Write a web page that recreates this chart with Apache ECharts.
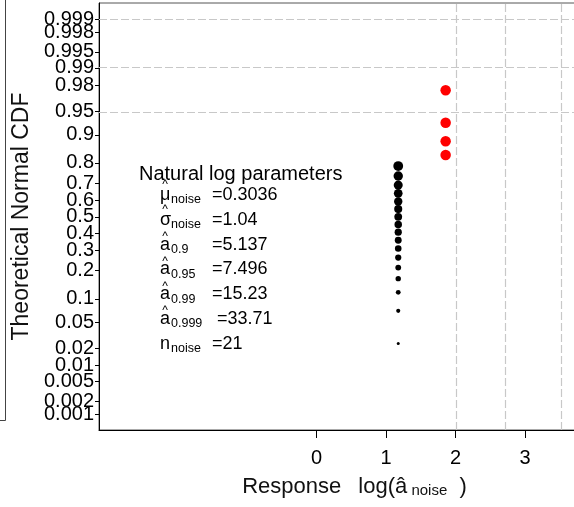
<!DOCTYPE html>
<html><head><meta charset="utf-8">
<script src="https://cdn.jsdelivr.net/npm/echarts@6/dist/echarts.min.js"></script>
<style>html,body{margin:0;padding:0;background:#fff}#c{width:574px;height:507px}</style>
</head><body><div id="c"></div>
<script>
// ---- data ----
const noiseLogA = [1.174,1.174,1.174,1.174,1.174,1.174,1.174,1.174,1.174,1.174,1.174,1.174,1.174,1.174,1.174,1.174,1.174];
const noiseCdf  = [0.024,0.071,0.119,0.167,0.214,0.262,0.310,0.357,0.405,0.452,0.500,0.548,0.595,0.643,0.690,0.738,0.786];
const signalLogA = [1.856,1.856,1.856,1.856];
const signalCdf  = [0.833,0.881,0.929,0.976];
const yTickProbs  = [0.001,0.002,0.005,0.01,0.02,0.05,0.1,0.2,0.3,0.4,0.5,0.6,0.7,0.8,0.9,0.95,0.98,0.99,0.995,0.998,0.999];
const yTickLabels = ['0.001','0.002','0.005','0.01','0.02','0.05','0.1','0.2','0.3','0.4','0.5','0.6','0.7','0.8','0.9','0.95','0.98','0.99','0.995','0.998','0.999'];
const xTicks = [0,1,2,3];
const refProbs = [0.95,0.99,0.999];
const refA = [7.496,15.23,33.71];
const paramSymbols = ['μ','σ','a','a','a','a','n'];
const paramHats    = [true,true,true,true,true,true,false];
const paramSubs    = ['noise','noise','0.9','0.95','0.99','0.999','noise'];
const paramValues  = ['=0.3036','=1.04','=5.137','=7.496','=15.23','=33.71','=21'];

// inverse standard normal CDF (Acklam) – the probit axis transform
function probit(p){
  const a=[-3.969683028665376e+01,2.209460984245205e+02,-2.759285104469687e+02,1.383577518672690e+02,-3.066479806614716e+01,2.506628277459239e+00];
  const b=[-5.447609879822406e+01,1.615858368580409e+02,-1.556989798598866e+02,6.680131188771972e+01,-1.328068155288572e+01];
  const c=[-7.784894002430293e-03,-3.223964580411365e-01,-2.400758277161838e+00,-2.549732539343734e+00,4.374664141464968e+00,2.938163982698783e+00];
  const d=[7.784695709041462e-03,3.224671290700398e-01,2.445134137142996e+00,3.754408661907416e+00];
  const pl=0.02425, ph=1-pl; let q,r;
  if(p<pl){q=Math.sqrt(-2*Math.log(p));return (((((c[0]*q+c[1])*q+c[2])*q+c[3])*q+c[4])*q+c[5])/((((d[0]*q+d[1])*q+d[2])*q+d[3])*q+1);}
  if(p<=ph){q=p-0.5;r=q*q;return (((((a[0]*r+a[1])*r+a[2])*r+a[3])*r+a[4])*r+a[5])*q/(((((b[0]*r+b[1])*r+b[2])*r+b[3])*r+b[4])*r+1);}
  q=Math.sqrt(-2*Math.log(1-p));return -(((((c[0]*q+c[1])*q+c[2])*q+c[3])*q+c[4])*q+c[5])/((((d[0]*q+d[1])*q+d[2])*q+d[3])*q+1);
}
const Y_MIN = -3.33, Y_MAX = 3.34;
const yTickZ = yTickProbs.map(probit);
// guard entries at the axis ends (hidden) so no real label is dropped by min/max overlap handling
const yLabelZ = [Y_MIN].concat(yTickZ, [Y_MAX]);
const FONT = '"Liberation Sans", Arial, sans-serif';

const chart = echarts.init(document.getElementById('c'), null, {renderer:'canvas'});

// annotation block
const gEls = [];
gEls.push({type:'text', x:139, y:174, style:{text:'Natural log parameters', font:'20px '+FONT, fill:'#000', verticalAlign:'middle', align:'left'}});
paramSymbols.forEach((s,i)=>{
  const cy = 195 + 24.8*i;
  gEls.push({type:'text', x:160, y:cy, style:{text:s, font:'18px '+FONT, fill:'#000', verticalAlign:'middle', align:'left'}});
  if(paramHats[i]) gEls.push({type:'text', x:165, y:(i<2? cy-10 : cy-8), style:{text:'^', font:'12px '+FONT, fill:'#000', verticalAlign:'middle', align:'center'}});
  gEls.push({type:'text', x:171, y:cy+5, style:{text:paramSubs[i], font:'12.5px '+FONT, fill:'#000', verticalAlign:'middle', align:'left'}});
  gEls.push({type:'text', x:(paramSubs[i]==='0.999')?217:212, y:cy, style:{text:paramValues[i], font:'18px '+FONT, fill:'#000', verticalAlign:'middle', align:'left'}});
});
// left edge of neighbouring frame
gEls.push({type:'line', shape:{x1:5.5,y1:0,x2:5.5,y2:420.5}, style:{stroke:'#444', lineWidth:1}});
gEls.push({type:'line', shape:{x1:0,y1:420.5,x2:5.5,y2:420.5}, style:{stroke:'#444', lineWidth:1}});

const dash = {type:[8,3], color:'#c8c8c8', width:1.2};

chart.setOption({
  animation:false,
  backgroundColor:'#fff',
  grid:{left:99, top:3, right:-36, bottom:77, show:true, borderColor:'#555', borderWidth:1, containLabel:false, outerBoundsMode:'none'},
  xAxis:{
    type:'value', min:-3.13, max:4.22,
    axisLine:{onZero:false, lineStyle:{color:'#000', width:1}},
    axisTick:{length:8, lineStyle:{color:'#000'}, customValues:xTicks},
    axisLabel:{customValues:xTicks, fontSize:20, fontFamily:FONT, color:'#000', margin:18},
    splitLine:{show:false},
    name:'Response\u2002 log({h|â}{s| noise}  )',
    nameLocation:'middle', nameGap:45,
    nameTextStyle:{fontSize:22, fontFamily:FONT, color:'#111',
      rich:{h:{fontSize:22, fontFamily:FONT, color:'#111'}, s:{fontSize:15, fontFamily:FONT, color:'#111', padding:[8,0,0,0]}}}
  },
  yAxis:{
    type:'value', min:Y_MIN, max:Y_MAX,
    axisLine:{onZero:false, lineStyle:{color:'#000', width:1}},
    axisTick:{length:4, lineStyle:{color:'#000'}, customValues:yTickZ},
    axisLabel:{customValues:yLabelZ, fontSize:20, fontFamily:FONT, color:'#000', margin:5,
      showMinLabel:false, showMaxLabel:false, hideOverlap:false,
      formatter:function(v){let k=-1,best=1e-6;yTickZ.forEach((z,i)=>{const d=Math.abs(z-v);if(d<best){best=d;k=i;}});return k<0?'':yTickLabels[k];}},
    splitLine:{show:false},
    name:'Theoretical Normal CDF', nameLocation:'middle', nameGap:63,
    nameTextStyle:{fontSize:23, fontFamily:FONT, color:'#111'}
  },
  graphic:{elements:gEls},
  series:[
    {type:'scatter', name:'noise', data:noiseLogA.map((x,i)=>[x,probit(noiseCdf[i])]),
     symbol:'circle', symbolSize:function(v){return Math.max(3, 7.8+2.5*v[1]);},
     itemStyle:{color:'#000', opacity:1}, silent:true, z:3,
     markLine:{silent:true, symbol:['none','none'], label:{show:false}, lineStyle:dash, z:1,
       data: refA.map(a=>({xAxis:Math.log(a)})).concat(refProbs.map(p=>({yAxis:probit(p)})))}},
    {type:'scatter', name:'signal', data:signalLogA.map((x,i)=>[x,probit(signalCdf[i])]),
     symbol:'circle', symbolSize:10.5, itemStyle:{color:'#ff0000', opacity:1}, silent:true, z:3}
  ]
});
</script></body></html>
